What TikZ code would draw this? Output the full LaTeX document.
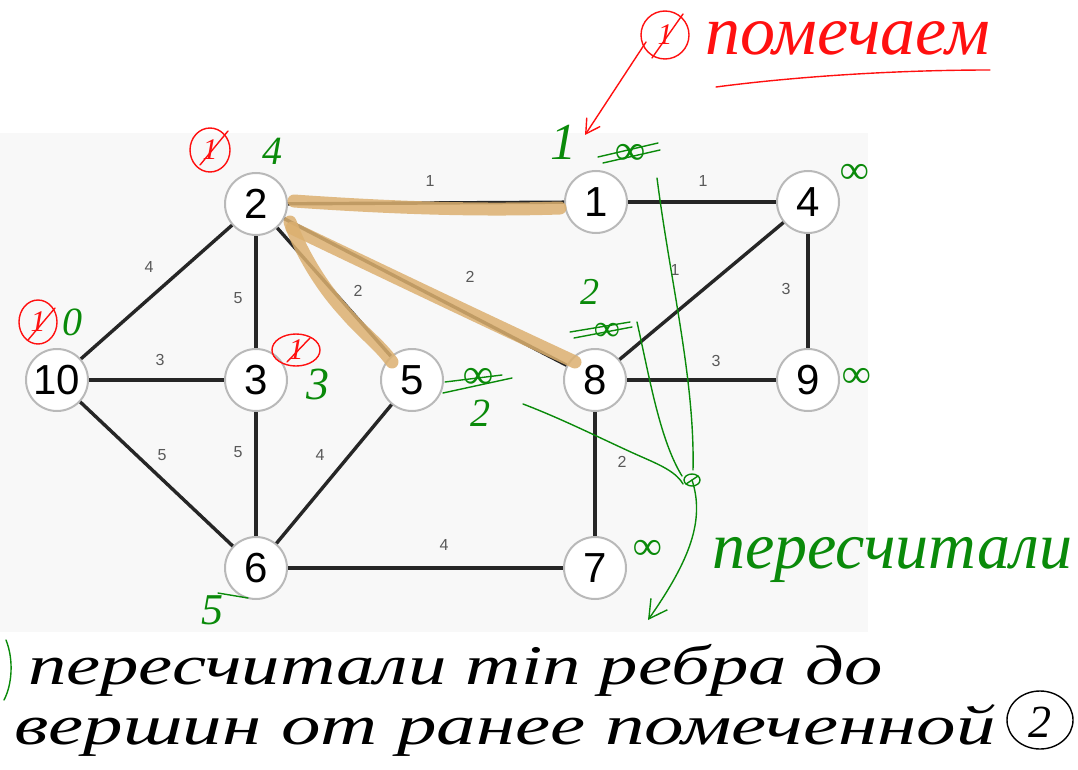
\documentclass[tikz,border=0pt]{standalone}
\usepackage{fontspec}
\setmainfont{Liberation Sans}
\newfontfamily\handfont{Liberation Serif}
\usetikzlibrary{arrows.meta,shapes.geometric}
\definecolor{bgc}{HTML}{F8F8F8}
\definecolor{hlc}{HTML}{DCB070}
\definecolor{gn}{HTML}{0A8A0A}
\definecolor{rd}{HTML}{FF1010}
\begin{document}
\begin{tikzpicture}[x=1pt,y=-1pt,
  vertex/.style={circle,draw=gray!55,line width=2pt,fill=white,minimum size=62pt,inner sep=0pt,font=\fontsize{42}{42}\selectfont},
  edge/.style={line width=3.4pt,black!85},
  wt/.style={font=\fontsize{16}{16}\selectfont,text=black!65,inner sep=0pt},
  hl/.style={line width=13pt,draw=hlc,opacity=0.85,line cap=round,line join=round},
  gpen/.style={draw=gn,line width=1.4pt,line cap=round,line join=round},
  rpen/.style={draw=rd,line width=1.4pt,line cap=round,line join=round},
  gtxt/.style={text=gn,inner sep=0pt,text height={0.68*#1pt},text depth=0pt,font=\handfont\itshape\fontsize{#1}{#1}\selectfont},
  rtxt/.style={text=rd,inner sep=0pt,font=\handfont\itshape\fontsize{#1}{#1}\selectfont},
  btxt/.style={text=black,inner sep=0pt,text height={0.68*#1pt},text depth={0.1*#1pt},font=\handfont\itshape\fontsize{#1}{#1}\selectfont},
  circmark/.style={rpen,ellipse,draw,minimum width=#1,minimum height=#1,inner sep=0pt,text=rd,font=\handfont\itshape\fontsize{30}{30}\selectfont}
]
\useasboundingbox (0,0) rectangle (1078,770);
\fill[bgc] (0,133) rectangle (868,632);

% vertices
\node[vertex] (n2) at (256,204) {2};
\node[vertex] (n1) at (596,202) {1};
\node[vertex] (n4) at (808,202) {4};
\node[vertex] (n10) at (57,380) {10};
\node[vertex] (n3) at (256,380) {3};
\node[vertex] (n5) at (412,380) {5};
\node[vertex] (n8) at (595,380) {8};
\node[vertex] (n9) at (808,380) {9};
\node[vertex] (n6) at (256,568) {6};
\node[vertex] (n7) at (595,568) {7};

% edges
\draw[edge] (n2) -- (n1);
\draw[edge] (n1) -- (n4);
\draw[edge] (n2) -- (n10);
\draw[edge] (n2) -- (n3);
\draw[edge] (n2) -- (n5);
\draw[edge] (n2) -- (n8);
\draw[edge] (n4) -- (n8);
\draw[edge] (n4) -- (n9);
\draw[edge] (n10) -- (n3);
\draw[edge] (n8) -- (n9);
\draw[edge] (n10) -- (n6);
\draw[edge] (n3) -- (n6);
\draw[edge] (n5) -- (n6);
\draw[edge] (n8) -- (n7);
\draw[edge] (n6) -- (n7);

% weights
\node[wt] (w21) at (430,181) {1};
\node[wt] (w14) at (703,181) {1};
\node[wt] (w210) at (149,267) {4};
\node[wt] (w23) at (238,298) {5};
\node[wt] (w25) at (358,291) {2};
\node[wt] (w28) at (470,277) {2};
\node[wt] (w48) at (675,270) {1};
\node[wt] (w49) at (786,289) {3};
\node[wt] (w103) at (160,360) {3};
\node[wt] (w89) at (716,361) {3};
\node[wt] (w106) at (162,455) {5};
\node[wt] (w36) at (238,452) {5};
\node[wt] (w56) at (320,455) {4};
\node[wt] (w87) at (622,462) {2};
\node[wt] (w67) at (444,545) {4};

% highlighted edges
\draw[hl] (294,201) .. controls (380,207) and (470,211) .. (560,208);
\draw[hl] (290,222) .. controls (300,250) and (320,285) .. (345,312) .. controls (362,332) and (380,345) .. (392,362);
\draw[hl] (292,228) .. controls (380,270) and (480,318) .. (575,362);

% red annotations
\node[circmark=48pt] (rc0) at (665,35) {1};
\draw[rpen] (683,14) -- (652,58);
\node[rtxt=70, anchor=base west] (pom) at (705,55) {помечаем};
\draw[rpen] (716,87) .. controls (800,76) and (900,70) .. (990,70);
\draw[rpen,-{Straight Barb[length=14pt,width=16pt]}] (646,42) -- (585,135);
\node[circmark=40pt,minimum width=40pt,minimum height=44pt] (rc2) at (210,150) {1};
\draw[rpen] (228,131) -- (200,165);
\node[circmark=40pt,minimum width=38pt,minimum height=44pt] (rc10) at (38,322) {1};
\draw[rpen] (55,308) -- (28,340);
\node[circmark=36pt,minimum width=48pt,minimum height=32pt] (rc3) at (296,350) {1};
\draw[rpen] (310,338) -- (287,362);

% green marks
\node[gtxt=40] (g2) at (272,151) {4};
\node[gtxt=52] (g1) at (563,142) {1};
\node[gtxt=42] (g1inf) at (630,150) {∞};
\draw[gpen] (598,157) -- (658,143);
\draw[gpen] (603,163) -- (660,150);
\node[gtxt=40] (g4) at (855,170) {∞};
\node[gtxt=40] (g10) at (72,322) {0};
\node[gtxt=46] (g3) at (318,384) {3};
\node[gtxt=42] (g5inf) at (478,374) {∞};
\draw[gpen] (445,382) -- (502,375);
\draw[gpen] (443,393) -- (512,378);
\node[gtxt=40] (g5) at (480,413) {2};
\node[gtxt=38] (g8) at (590,292) {2};
\node[gtxt=36] (g8inf) at (607,328) {∞};
\draw[gpen] (570,332) -- (630,322);
\draw[gpen] (574,338) -- (632,327);
\node[gtxt=40] (g9) at (857,374) {∞};
\node[gtxt=40] (g7) at (648,546) {∞};
\node[gtxt=44] (g6) at (212,610) {5};
\draw[gpen] (218,593) -- (248,598);
\node[gtxt=66, anchor=base west] (pere) at (712,568) {пересчитали};

% green connecting strokes
\coordinate (knot) at (692,480);
\draw[gpen] (523,404) .. controls (560,418) and (600,438) .. (633,453) .. controls (655,463) and (675,470) .. (683,484);
\draw[gpen] (637,322) .. controls (650,380) and (660,440) .. (682,476);
\draw[gpen] (657,178) .. controls (670,280) and (695,380) .. (693,470);
\draw[gpen] (knot) circle[x radius=8pt,y radius=6pt];
\draw[gpen] (knot) ++(-6,4) -- ++(12,-8);
\draw[gpen,-{Straight Barb[length=18pt,width=20pt]}] (knot) .. controls (705,520) and (690,560) .. (648,620);

% bottom handwritten text
\draw[gpen] (6,640) .. controls (14,660) and (12,685) .. (4,700);
\node[btxt=56, anchor=base west] (l1) at (28,684) {\scalebox{1.37}[1]{пересчитали min ребра до}};
\node[btxt=56, anchor=base west] (l2) at (14,744) {\scalebox{1.41}[1]{вершин от ранее помеченной}};
\draw[black,line width=1.4pt] (1040,720) circle[x radius=33pt,y radius=29pt];
\node[gtxt=46,text=black] (c2) at (1040,722) {2};
\end{tikzpicture}
\end{document}
